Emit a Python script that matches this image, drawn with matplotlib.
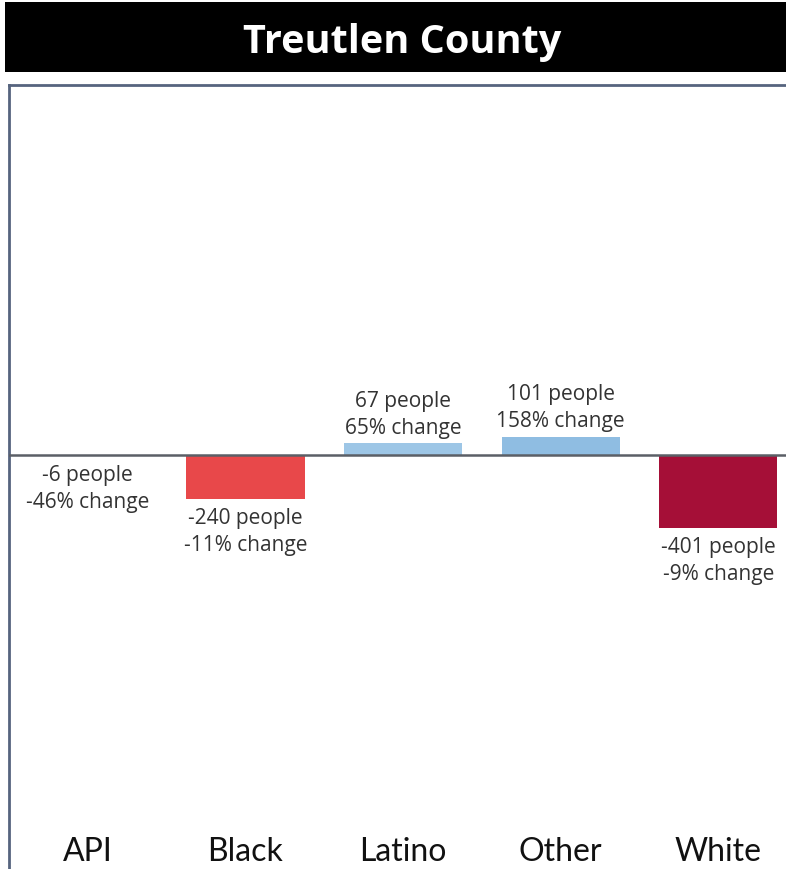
import matplotlib
matplotlib.use("Agg")
import matplotlib.pyplot as plt
from matplotlib.patches import Rectangle

title = "Treutlen County"
categories = ["API", "Black", "Latino", "Other", "White"]
people = [-6, -240, 67, 101, -401]
pct_change = [-46, -11, 65, 158, -9]
colors = ["#f08c8c", "#e8484a", "#9dc6e6", "#8fbde2", "#a50f37"]

W, H = 786, 869
fig = plt.figure(figsize=(W / 100, H / 100), dpi=100)

# title bar
fig.patches.append(Rectangle((5 / W, 1 - 72 / H), 1 - 5 / W, 70 / H,
                             transform=fig.transFigure, facecolor="black",
                             edgecolor="none", zorder=0))
fig.text(0.5 + 9 / W, 1 - 42 / H, title, color="white", fontsize=28.5,
         fontweight="bold", family="Open Sans", ha="center", va="center")

ax = fig.add_axes([9 / W, 0, 1 - 9 / W, 1 - 85 / H])
x = list(range(len(categories)))
ax.bar(x, people, width=0.75, color=colors, zorder=2)
ax.axhline(0, color="#5b5f66", lw=1.8, zorder=3)
ax.set_xlim(-0.5, 4.43)
ax.set_ylim(-2274, 2032)

for xi, p, c in zip(x, people, pct_change):
    txt = f"{p} people\n{c}% change"
    if p < 0:
        ax.annotate(txt, (xi, p), xytext=(0, -6.5), textcoords="offset points",
                    ha="center", va="top", fontsize=15, color="#333333",
                    family="Open Sans", linespacing=1.38)
    else:
        ax.annotate(txt, (xi, p), xytext=(0, 3), textcoords="offset points",
                    ha="center", va="bottom", fontsize=15, color="#333333",
                    family="Open Sans", linespacing=1.38)

for xi, cat in zip(x, categories):
    ax.text(xi, -2180, cat, ha="center", va="center", fontsize=23,
            family="Lato", color="#111111")

ax.set_xticks([])
ax.set_yticks([])
for s in ["right", "bottom"]:
    ax.spines[s].set_visible(False)
for s in ["left", "top"]:
    ax.spines[s].set_color("#56647e")
    ax.spines[s].set_linewidth(2)

fig.savefig("out.png", dpi=100)
